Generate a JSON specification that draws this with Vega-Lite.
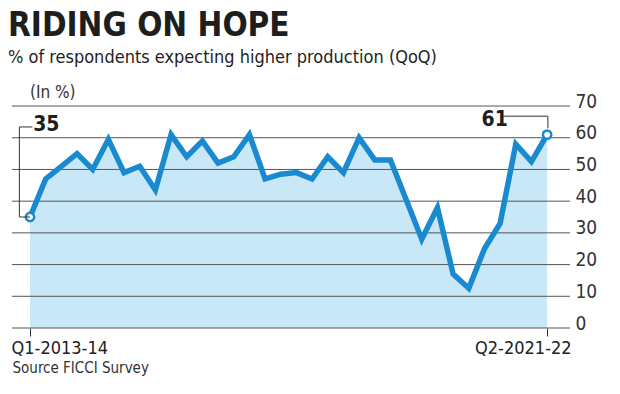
{
  "$schema": "https://vega.github.io/schema/vega-lite/v6.json",
  "width": 558,
  "height": 241,
  "autosize": {"type": "none"},
  "padding": {"left": 12, "top": 87, "right": 50, "bottom": 66},
  "background": "white",
  "config": {
    "view": {"stroke": null},
    "axis": {"labelOverlap": false, "labelFlush": false, "labelBound": false},
    "axisY": {"labelOverlap": false, "tickCount": 8}
  },
  "title": {
    "text": "RIDING ON HOPE",
    "subtitle": "% of respondents expecting higher production (QoQ)",
    "anchor": "start",
    "frame": "group",
    "offset": 17,
    "dx": -4,
    "font": "DejaVu Sans Condensed, sans-serif",
    "fontSize": 33,
    "fontWeight": "bold",
    "color": "#1e1e1e",
    "subtitleFont": "DejaVu Sans Condensed, sans-serif",
    "subtitleFontSize": 18,
    "subtitleColor": "#1e1e1e",
    "subtitlePadding": 6
  },
  "datasets": {
    "series": [
      {"i": 0, "v": 35}, {"i": 1, "v": 47}, {"i": 2, "v": 51}, {"i": 3, "v": 55},
      {"i": 4, "v": 50}, {"i": 5, "v": 59.5}, {"i": 6, "v": 49}, {"i": 7, "v": 51},
      {"i": 8, "v": 43.5}, {"i": 9, "v": 61}, {"i": 10, "v": 54}, {"i": 11, "v": 59},
      {"i": 12, "v": 52}, {"i": 13, "v": 54}, {"i": 14, "v": 61}, {"i": 15, "v": 47},
      {"i": 16, "v": 48.5}, {"i": 17, "v": 49}, {"i": 18, "v": 47}, {"i": 19, "v": 54},
      {"i": 20, "v": 49}, {"i": 21, "v": 60}, {"i": 22, "v": 53}, {"i": 23, "v": 53},
      {"i": 24, "v": 40.5}, {"i": 25, "v": 28}, {"i": 26, "v": 38}, {"i": 27, "v": 17},
      {"i": 28, "v": 12.5}, {"i": 29, "v": 25}, {"i": 30, "v": 33}, {"i": 31, "v": 58},
      {"i": 32, "v": 52.5}, {"i": 33, "v": 61}
    ],
    "grid": [{"v": 0}, {"v": 10}, {"v": 20}, {"v": 30}, {"v": 40}, {"v": 50}, {"v": 60}, {"v": 70}],
    "connectors": [
      {"i": -0.68, "i2": 0.15, "v": 63.4, "v2": 63.4},
      {"i": -0.68, "i2": -0.68, "v": 63.4, "v2": 35},
      {"i": -0.68, "i2": 0, "v": 35, "v2": 35},
      {"i": 30.2, "i2": 33.05, "v": 66.8, "v2": 66.8},
      {"i": 33.05, "i2": 33.05, "v": 66.8, "v2": 63}
    ],
    "labels": [
      {"i": 0.2, "v": 64.0, "t": "35"},
      {"i": 28.82, "v": 65.7, "t": "61"}
    ],
    "unit": [{"i": 0, "v": 74.0, "t": "(In %)"}]
  },
  "layer": [
    {
      "data": {"name": "series"},
      "mark": {"type": "area", "color": "#c8e8f8"},
      "encoding": {
        "x": {
          "field": "i", "type": "quantitative",
          "scale": {"domain": [-1.15, 34.46], "nice": false, "zero": false},
          "axis": {
            "values": [0, 33],
            "labelExpr": "datum.value == 0 ? 'Q1-2013-14' : 'Q2-2021-22'",
            "grid": false, "domain": false, "ticks": true,
            "tickSize": 8, "tickColor": "#333", "tickWidth": 1,
            "labelFont": "DejaVu Sans Condensed, sans-serif",
            "labelFontSize": 18, "labelColor": "#222", "labelPadding": 3,
            "labelFlush": false, "labelOverlap": false,
            "labelAlign": {"condition": {"test": "datum.value == 0", "value": "left"}, "value": "right"},
            "labelOffset": {"condition": {"test": "datum.value == 0", "value": -19}, "value": 24},
            "title": "Source FICCI Survey",
            "titleAnchor": "start", "titleAlign": "left",
            "titleFont": "DejaVu Sans Condensed, sans-serif",
            "titleFontSize": 15, "titleFontWeight": "normal", "titleColor": "#333",
            "titlePadding": 3
          }
        },
        "y": {
          "field": "v", "type": "quantitative",
          "scale": {"domain": [0, 76], "nice": false},
          "axis": {
            "orient": "right",
            "values": [0, 10, 20, 30, 40, 50, 60, 70],
            "grid": false, "domain": false, "ticks": false,
            "labelPadding": 5, "labelOverlap": false, "labelFlush": false,
            "labelFont": "DejaVu Sans Condensed, sans-serif",
            "labelFontSize": 19, "labelColor": "#333",
            "labelBaseline": "alphabetic",
            "labelOffset": 1,
            "title": null
          }
        }
      }
    },
    {
      "data": {"name": "grid"},
      "mark": {"type": "rule", "color": "#555", "strokeWidth": 1},
      "encoding": {"y": {"field": "v", "type": "quantitative"}}
    },
    {
      "data": {"name": "series"},
      "mark": {"type": "line", "color": "#1a8ad0", "strokeWidth": 5.5},
      "encoding": {
        "x": {"field": "i", "type": "quantitative"},
        "y": {"field": "v", "type": "quantitative"}
      }
    },
    {
      "data": {"name": "series"},
      "transform": [{"filter": "datum.i == 0 || datum.i == 33"}],
      "mark": {"type": "point", "filled": false, "fill": "white", "stroke": "#1a8ad0", "strokeWidth": 2.5, "size": 70, "opacity": 1},
      "encoding": {
        "x": {"field": "i", "type": "quantitative"},
        "y": {"field": "v", "type": "quantitative"}
      }
    },
    {
      "data": {"name": "connectors"},
      "mark": {"type": "rule", "color": "#333", "strokeWidth": 1},
      "encoding": {
        "x": {"field": "i", "type": "quantitative"},
        "x2": {"field": "i2"},
        "y": {"field": "v", "type": "quantitative"},
        "y2": {"field": "v2"}
      }
    },
    {
      "data": {"name": "labels"},
      "mark": {"type": "text", "align": "left", "baseline": "middle", "font": "DejaVu Sans Condensed, sans-serif", "fontSize": 21, "fontWeight": "bold", "color": "#1e1e1e"},
      "encoding": {
        "x": {"field": "i", "type": "quantitative"},
        "y": {"field": "v", "type": "quantitative"},
        "text": {"field": "t"}
      }
    },
    {
      "data": {"name": "unit"},
      "mark": {"type": "text", "align": "left", "baseline": "middle", "font": "DejaVu Sans Condensed, sans-serif", "fontSize": 17, "color": "#333"},
      "encoding": {
        "x": {"field": "i", "type": "quantitative"},
        "y": {"field": "v", "type": "quantitative"},
        "text": {"field": "t"}
      }
    }
  ]
}
